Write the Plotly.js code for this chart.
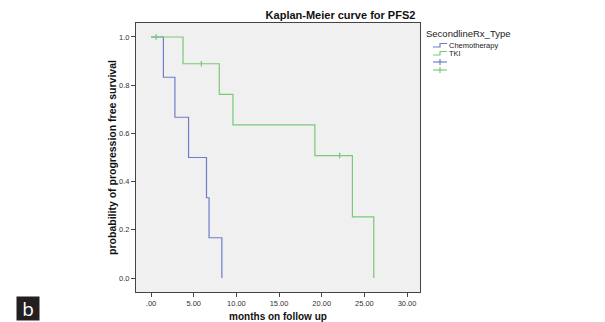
<!DOCTYPE html>
<html>
<head>
<meta charset="utf-8">
<script src="https://cdn.plot.ly/plotly-3.0.1.min.js"></script>
<style>html,body{margin:0;padding:0;background:#fff;}#chart{width:605px;height:322px;}</style>
</head>
<body>
<div id="chart"></div>
<script>
// ---- data ----
var chemoTime = [0, 1.45, 2.8, 4.4, 6.5, 6.8, 8.3];
var chemoSurv = [1, 0.833, 0.667, 0.5, 0.333, 0.167, 0];
var tkiTime = [0, 3.75, 8.0, 9.6, 19.2, 23.6, 26.1];
var tkiSurv = [1, 0.889, 0.762, 0.635, 0.508, 0.254, 0];
var tkiCensorTime = [0.6, 5.9, 22.1];
var tkiCensorSurv = [1, 0.889, 0.508];
var chemoCensorTime = [];
var chemoCensorSurv = [];
var xTickVals = [0, 5, 10, 15, 20, 25, 30];
var xTickText = ['.00', '5.00', '10.00', '15.00', '20.00', '25.00', '30.00'];
var yTickVals = [0, 0.2, 0.4, 0.6, 0.8, 1.0];
var yTickText = ['0.0', '0.2', '0.4', '0.6', '0.8', '1.0'];
var groupNames = ['Chemotherapy', 'TKI'];
var legendTitle = 'SecondlineRx_Type';

var BLUE = '#6e7cc9';
var GREEN = '#79c979';
var FONT = 'Liberation Sans, Arial, sans-serif';

// plot area in pixels: left 136, right 420, top 23, bottom 292
var L = 136, R = 420, T = 23, B = 292;
function px(x) { return (x - L) / (R - L); }
function py(y) { return (B - y) / (B - T); }

var traces = [
  {x: chemoTime, y: chemoSurv, mode: 'lines', line: {shape: 'hv', color: BLUE, width: 1.2}, name: groupNames[0], hoverinfo: 'skip'},
  {x: tkiTime, y: tkiSurv, mode: 'lines', line: {shape: 'hv', color: GREEN, width: 1.2}, name: groupNames[1], hoverinfo: 'skip'},
  {x: chemoCensorTime, y: chemoCensorSurv, mode: 'markers', marker: {symbol: 'line-ns', size: 4, line: {color: BLUE, width: 1.3}}, name: ''},
  {x: tkiCensorTime, y: tkiCensorSurv, mode: 'markers', marker: {symbol: 'line-ns', size: 4, line: {color: GREEN, width: 1.3}}, name: ''}
];

// custom legend decorations (layout, not data marks)
var shapes = [];
var annotations = [];
function stepIcon(yc, color) {
  shapes.push({type: 'path', xref: 'paper', yref: 'paper',
    path: 'M ' + px(433) + ' ' + py(yc + 1.5) + ' L ' + px(440) + ' ' + py(yc + 1.5) +
          ' L ' + px(440) + ' ' + py(yc - 2) + ' L ' + px(447) + ' ' + py(yc - 2),
    line: {color: color, width: 1.2}});
}
function plusIcon(yc, color) {
  shapes.push({type: 'line', xref: 'paper', yref: 'paper', x0: px(433), x1: px(447), y0: py(yc), y1: py(yc), line: {color: color, width: 1.2}});
  shapes.push({type: 'line', xref: 'paper', yref: 'paper', x0: px(440), x1: px(440), y0: py(yc - 3), y1: py(yc + 3), line: {color: color, width: 1.2}});
}
stepIcon(45.5, BLUE);
stepIcon(53.5, GREEN);
plusIcon(62, BLUE);
plusIcon(70, GREEN);

annotations.push({xref: 'paper', yref: 'paper', x: px(424), y: py(33), xanchor: 'left', yanchor: 'middle',
  text: legendTitle, showarrow: false, font: {family: FONT, size: 9.5, color: '#222'}});
annotations.push({xref: 'paper', yref: 'paper', x: px(447), y: py(45.5), xanchor: 'left', yanchor: 'middle',
  text: groupNames[0], showarrow: false, font: {family: FONT, size: 7.5, color: '#222'}});
annotations.push({xref: 'paper', yref: 'paper', x: px(447), y: py(53.5), xanchor: 'left', yanchor: 'middle',
  text: groupNames[1], showarrow: false, font: {family: FONT, size: 7.5, color: '#222'}});
// panel label "b"
annotations.push({xref: 'paper', yref: 'paper', x: px(28), y: py(308.5), xanchor: 'center', yanchor: 'middle',
  text: 'b', showarrow: false, bgcolor: '#231f20', width: 22, height: 23, borderpad: 0,
  font: {family: 'Open Sans, DejaVu Sans, sans-serif', size: 19, color: '#ffffff'}});

var layout = {
  width: 605, height: 322,
  margin: {l: L, r: 605 - R, t: T, b: 322 - B, pad: 0},
  paper_bgcolor: '#ffffff',
  plot_bgcolor: '#f0f0f0',
  showlegend: false,
  title: {text: '<b>Kaplan-Meier curve for PFS2</b>', xref: 'paper', x: px(340.5), xanchor: 'center',
    yref: 'container', y: 1 - 15.5 / 322, yanchor: 'middle',
    font: {family: FONT, size: 11, color: '#111'}},
  xaxis: {
    range: [-1.76, 31.52], tickvals: xTickVals, ticktext: xTickText,
    showgrid: false, zeroline: false, showline: true, mirror: true, linecolor: '#444', linewidth: 1,
    ticks: 'outside', ticklen: 4, tickcolor: '#444', tickwidth: 1,
    tickfont: {family: FONT, size: 7.5, color: '#333'},
    title: {text: '<b>months on follow up</b>', standoff: 7, font: {family: FONT, size: 10, color: '#111'}}
  },
  yaxis: {
    range: [-0.058, 1.058], tickvals: yTickVals, ticktext: yTickText,
    showgrid: false, zeroline: false, showline: true, mirror: true, linecolor: '#444', linewidth: 1,
    ticks: 'outside', ticklen: 4, tickcolor: '#444', tickwidth: 1,
    tickfont: {family: FONT, size: 7.5, color: '#333'},
    title: {text: '<b>probability of progression free survival</b>', standoff: 0, font: {family: FONT, size: 10.5, color: '#111'}}
  },
  shapes: shapes,
  annotations: annotations
};

Plotly.newPlot('chart', traces, layout, {staticPlot: true, displayModeBar: false});
</script>
</body>
</html>
